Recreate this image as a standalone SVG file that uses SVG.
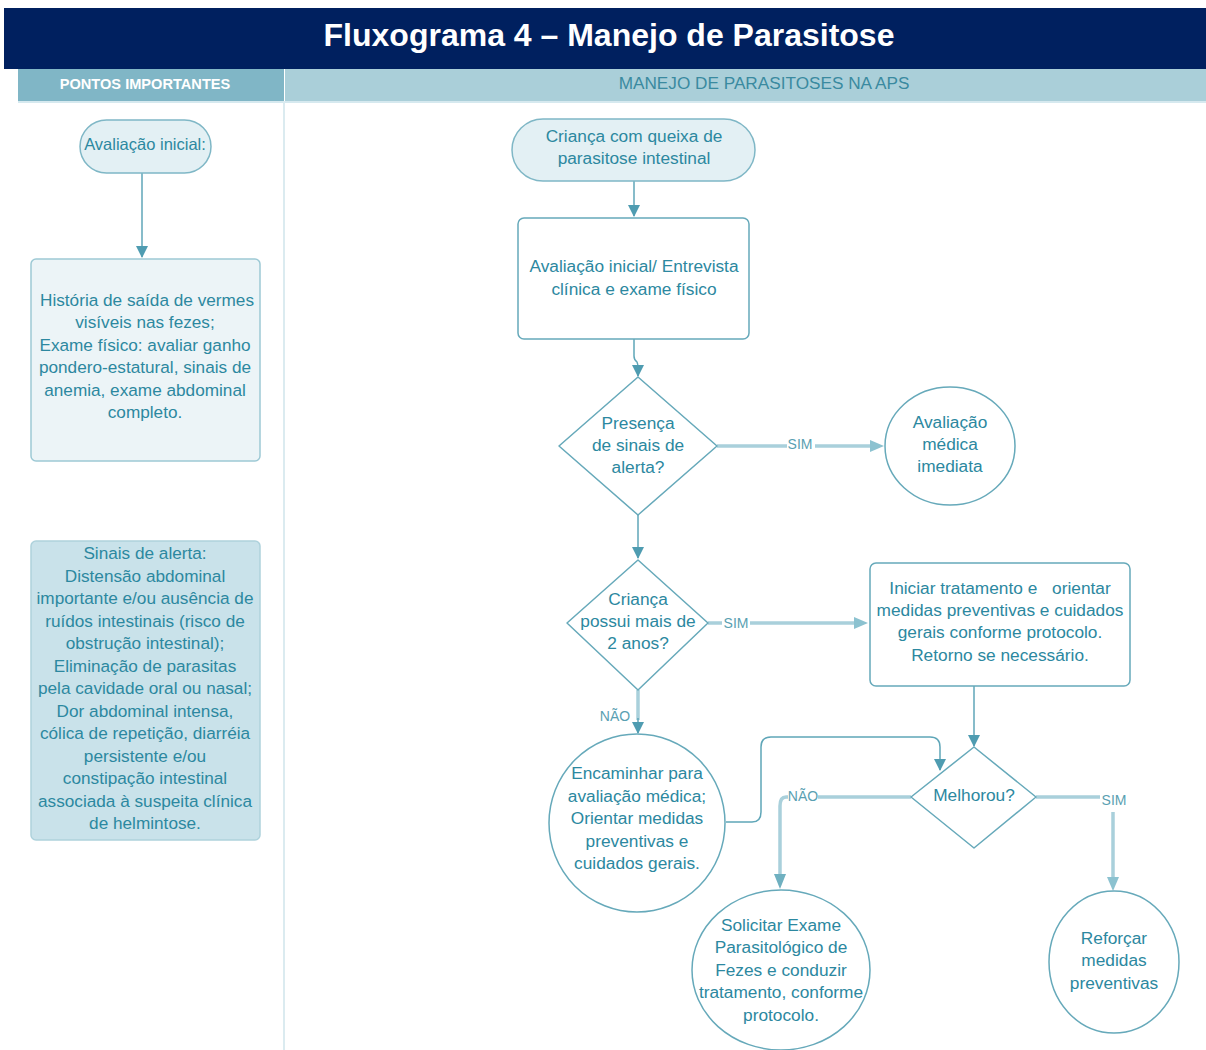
<svg xmlns="http://www.w3.org/2000/svg" width="1206" height="1050" viewBox="0 0 1206 1050">
<style>
text{font-family:"Liberation Sans",Arial,sans-serif;fill:#2c88a0;text-anchor:middle}
.t{font-size:17.3px}
.l{font-size:17.2px}
.lab{font-size:14px;fill:#5a9fb2}
.node{fill:#fff;stroke:#66a9ba;stroke-width:1.5}
.term{fill:#e3f0f4;stroke:#7fb7c6;stroke-width:1.5}
.c{fill:none;stroke:#5fa6b8;stroke-width:1.5}
.ct{fill:none;stroke:#a9d0db;stroke-width:3.5}
</style>
<defs>
<marker id="ah" markerWidth="12" markerHeight="12" refX="11" refY="6" orient="auto" markerUnits="userSpaceOnUse">
<path d="M0,0 L12,6 L0,12 Z" fill="#4f9cb1"/>
</marker>
</defs>
<rect x="0" y="0" width="1206" height="1050" fill="#fff"/>
<g id="title">
<rect x="4" y="8" width="1202" height="61" fill="#00205f"/>
<text x="609" y="46" style="font-size:32px;font-weight:bold;fill:#fff">Fluxograma 4 – Manejo de Parasitose</text>
</g>
<g id="headers">
<rect x="18" y="69" width="266" height="32" fill="#80b6c6"/>
<text x="145" y="89" style="font-size:14.6px;font-weight:bold;fill:#fff">PONTOS IMPORTANTES</text>
<rect x="285" y="69" width="921" height="32" fill="#aacfd9"/>
<text x="764" y="89" style="font-size:17.2px;fill:#3a8aa0">MANEJO DE PARASITOSES NA APS</text>
<rect x="18" y="101" width="1188" height="2" fill="#d6e9ef"/>
<rect x="283" y="101" width="2" height="949" fill="#dbebf0"/>
</g>
<g id="connectors">
<path class="c" d="M142,173 V257" marker-end="url(#ah)"/>
<path class="c" d="M634,181 V216" marker-end="url(#ah)"/>
<path class="c" d="M634,339 V356 Q634,360 637,362 Q638,364 638,368 V376" marker-end="url(#ah)"/>
<path class="ct" d="M717,446 H787 M815,446 H870"/>
<path d="M870,440 L884,446 L870,452 Z" fill="#8cc2d0"/>
<path class="c" d="M638,515 V558" marker-end="url(#ah)"/>
<path class="ct" d="M708,623 H722 M750,623 H854"/>
<path d="M854,617 L868,623 L854,629 Z" fill="#8cc2d0"/>
<path class="ct" d="M638,690 V720"/>
<path class="c" d="M638,718 V733" marker-end="url(#ah)"/>
<path class="c" d="M726,822 H752 Q761,822 761,812 V747 Q761,737 771,737 H930 Q940,737 940,747 V770" marker-end="url(#ah)"/>
<path class="c" d="M974,686 V746" marker-end="url(#ah)"/>
<path class="ct" d="M911,797 H818 M788,797 H786 Q780,797 780,806 V874"/>
<path d="M774,874 L780,889 L786,874 Z" fill="#6fb0c0"/>
<path class="ct" d="M1036,797 H1100 M1113,812 V877"/>
<path d="M1107,877 L1113,891 L1119,877 Z" fill="#8cc2d0"/>
<text class="lab" x="800" y="449">SIM</text>
<text class="lab" x="736" y="628">SIM</text>
<text class="lab" x="615" y="721">NÃO</text>
<text class="lab" x="803" y="801">NÃO</text>
<text class="lab" x="1114" y="805">SIM</text>
</g>
<g id="pi-avaliacao">
<rect class="term" x="80" y="120" width="131" height="53" rx="26.5"/>
<text x="145" y="150" style="font-size:16.5px">Avaliação inicial:</text>
</g>
<g id="pi-historia">
<rect x="31" y="259" width="229" height="202" rx="5" fill="#ecf4f7" stroke="#9dc9d5" stroke-width="1.5"/>
<text class="l" x="147" y="306">História de saída de vermes</text>
<text class="l" x="145" y="328">visíveis nas fezes;</text>
<text class="l" x="145" y="351">Exame físico: avaliar ganho</text>
<text class="l" x="145" y="373">pondero-estatural, sinais de</text>
<text class="l" x="145" y="396">anemia, exame abdominal</text>
<text class="l" x="145" y="418">completo.</text>
</g>
<g id="pi-alerta">
<rect x="31" y="541" width="229" height="299" rx="5" fill="#c9e2ea" stroke="#aed2dc" stroke-width="1.5"/>
<text class="l" x="145" y="559">Sinais de alerta:</text>
<text class="l" x="145" y="582">Distensão abdominal</text>
<text class="l" x="145" y="604">importante e/ou ausência de</text>
<text class="l" x="145" y="627">ruídos intestinais (risco de</text>
<text class="l" x="145" y="649">obstrução intestinal);</text>
<text class="l" x="145" y="672">Eliminação de parasitas</text>
<text class="l" x="145" y="694">pela cavidade oral ou nasal;</text>
<text class="l" x="145" y="717">Dor abdominal intensa,</text>
<text class="l" x="145" y="739">cólica de repetição, diarréia</text>
<text class="l" x="145" y="762">persistente e/ou</text>
<text class="l" x="145" y="784">constipação intestinal</text>
<text class="l" x="145" y="807">associada à suspeita clínica</text>
<text class="l" x="145" y="829">de helmintose.</text>
</g>
<g id="inicio">
<rect class="term" x="512" y="119" width="243" height="62" rx="31"/>
<text class="t" x="634" y="142">Criança com queixa de</text>
<text class="t" x="634" y="164">parasitose intestinal</text>
</g>
<g id="avaliacao">
<rect class="node" x="518" y="218" width="231" height="121" rx="6"/>
<text class="t" x="634" y="272">Avaliação inicial/ Entrevista</text>
<text class="t" x="634" y="295">clínica e exame físico</text>
</g>
<g id="d-alerta">
<path class="node" d="M638,377 L717,446 L638,515 L559,446 Z" stroke-linejoin="round"/>
<text class="t" x="638" y="429">Presença</text>
<text class="t" x="638" y="451">de sinais de</text>
<text class="t" x="638" y="473">alerta?</text>
</g>
<g id="medica-imediata">
<ellipse class="node" cx="950" cy="446" rx="65" ry="59"/>
<text class="t" x="950" y="428">Avaliação</text>
<text class="t" x="950" y="450">médica</text>
<text class="t" x="950" y="472">imediata</text>
</g>
<g id="d-idade">
<path class="node" d="M638,560 L708,623 L638,690 L567,623 Z" stroke-linejoin="round"/>
<text class="t" x="638" y="605">Criança</text>
<text class="t" x="638" y="627">possui mais de</text>
<text class="t" x="638" y="649">2 anos?</text>
</g>
<g id="tratamento">
<rect class="node" x="870" y="563" width="260" height="123" rx="6"/>
<text class="t" x="1000" y="594">Iniciar tratamento e <tspan dx="10">orientar</tspan></text>
<text class="t" x="1000" y="616">medidas preventivas e cuidados</text>
<text class="t" x="1000" y="638">gerais conforme protocolo.</text>
<text class="t" x="1000" y="661">Retorno se necessário.</text>
</g>
<g id="encaminhar">
<ellipse class="node" cx="637" cy="823" rx="88" ry="89"/>
<text class="t" x="637" y="779">Encaminhar para</text>
<text class="t" x="637" y="802">avaliação médica;</text>
<text class="t" x="637" y="824">Orientar medidas</text>
<text class="t" x="637" y="847">preventivas e</text>
<text class="t" x="637" y="869">cuidados gerais.</text>
</g>
<g id="d-melhorou">
<path class="node" d="M974,747 L1036,797 L974,848 L911,797 Z" stroke-linejoin="round"/>
<text class="t" x="974" y="801">Melhorou?</text>
</g>
<g id="exame">
<ellipse class="node" cx="781" cy="970" rx="89" ry="80"/>
<text class="t" x="781" y="931">Solicitar Exame</text>
<text class="t" x="781" y="953">Parasitológico de</text>
<text class="t" x="781" y="976">Fezes e conduzir</text>
<text class="t" x="781" y="998">tratamento, conforme</text>
<text class="t" x="781" y="1021">protocolo.</text>
</g>
<g id="reforcar">
<ellipse class="node" cx="1114" cy="962" rx="65" ry="71"/>
<text class="t" x="1114" y="944">Reforçar</text>
<text class="t" x="1114" y="966">medidas</text>
<text class="t" x="1114" y="989">preventivas</text>
</g>
</svg>
